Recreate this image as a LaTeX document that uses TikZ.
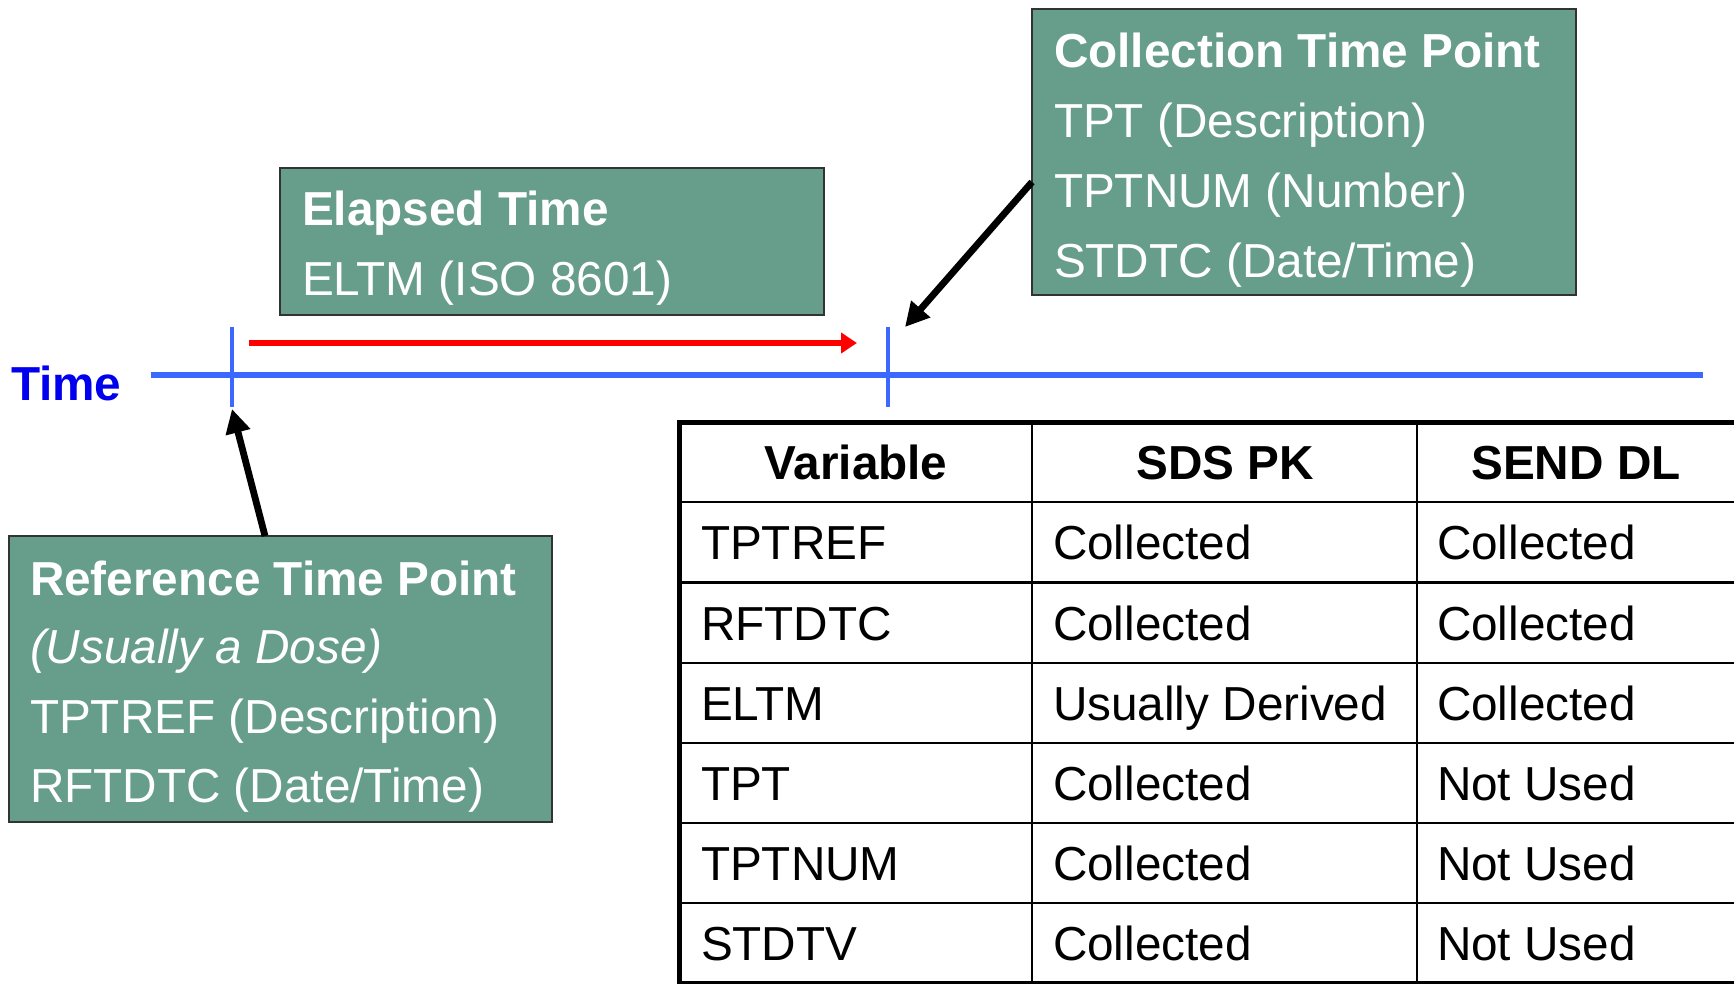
\documentclass[tikz,border=0pt]{standalone}
\usepackage{fontspec}
\setmainfont{Liberation Sans}
\usetikzlibrary{arrows.meta}
\definecolor{boxfill}{RGB}{102,157,139}
\definecolor{axisblue}{RGB}{59,104,255}
\definecolor{labelblue}{RGB}{0,0,238}
\definecolor{redarrow}{RGB}{255,0,0}
\begin{document}
\begin{tikzpicture}[x=0.5pt,y=-0.5pt,
  every node/.style={font=\fontsize{23.85}{28}\selectfont, inner sep=0pt, outer sep=0pt},
  box/.style={draw=black!80, line width=1pt, fill=boxfill, anchor=north west},
  boxtext/.style={text=white, anchor=base west},
  celltext/.style={text=black, anchor=base west},
  headtext/.style={text=black, anchor=base, font=\fontsize{23.85}{28}\selectfont\bfseries},
  axis/.style={draw=axisblue, line width=2.6pt},
  tick/.style={draw=axisblue, line width=2.3pt},
  pointer/.style={draw=black, line width=3.4pt, -{Triangle[length=12pt,width=12pt]}},
  elapsedarrow/.style={draw=redarrow, line width=2.6pt, -{Triangle[length=8pt,width=10pt]}},
  outerrule/.style={draw=black, line width=2.5pt},
  innerrule/.style={draw=black, line width=1.2pt}]
\useasboundingbox (0,0) rectangle (1734,984);

% time axis
\node[text=labelblue, anchor=base west, font=\fontsize{23.85}{28}\selectfont\bfseries] (timelabel) at (11,400) {Time};
\coordinate (axisL) at (151,375);
\coordinate (axisR) at (1703,375);
\draw[axis] (axisL) -- (axisR);
\coordinate (t1top) at (232,327);
\coordinate (t1bot) at (232,407);
\coordinate (t2top) at (888,327);
\coordinate (t2bot) at (888,407);
\draw[tick] (t1top) -- (t1bot);
\draw[tick] (t2top) -- (t2bot);

% elapsed arrow
\coordinate (elS) at (249,343);
\coordinate (elE) at (857,343);
\draw[elapsedarrow] (elS) -- (elE);

% boxes
\node[box, minimum width=272pt, minimum height=73.5pt] (elapsed) at (280,168) {};
\node[boxtext, font=\fontsize{23.85}{28}\selectfont\bfseries] (elapsed1) at (302,226) {Elapsed Time};
\node[boxtext] (elapsed2) at (302,295) {ELTM (ISO 8601)};

\node[box, minimum width=272pt, minimum height=143pt] (collect) at (1032,9) {};
\node[boxtext, font=\fontsize{23.85}{28}\selectfont\bfseries] (collect1) at (1054,68) {Collection Time Point};
\node[boxtext] (collect2) at (1054,138) {TPT (Description)};
\node[boxtext] (collect3) at (1054,208) {TPTNUM (Number)};
\node[boxtext] (collect4) at (1054,278) {STDTC (Date/Time)};

\node[box, minimum width=271.5pt, minimum height=143pt] (ref) at (9,536) {};
\node[boxtext, font=\fontsize{23.85}{28}\selectfont\bfseries] (ref1) at (30,595) {Reference Time Point};
\node[boxtext, font=\fontsize{23.85}{28}\selectfont\itshape] (ref2) at (30,663) {(Usually a Dose)};
\node[boxtext] (ref3) at (30,733) {TPTREF (Description)};
\node[boxtext] (ref4) at (30,802) {RFTDTC (Date/Time)};

% pointers
\coordinate (refTop) at (265,536);
\coordinate (refTip) at (232,409);
\draw[pointer] (refTop) -- (refTip);
\coordinate (colLeft) at (1032,182);
\coordinate (colTip) at (905,327);
\draw[pointer] (colLeft) -- (colTip);

% table
\foreach \y in {502,582.6,662.8,743,823,903}
  \draw[innerrule] (679,\y) -- (1736,\y);
\draw[innerrule] (1032,422) -- (1032,983);
\draw[innerrule] (1417,422) -- (1417,983);
\draw[outerrule] (679,422) rectangle (1736,983);

\node[headtext] (h1) at (856,479) {Variable};
\node[headtext] (h2) at (1225,479) {SDS PK};
\node[headtext] (h3) at (1576,479) {SEND DL};

\node[celltext] (r1a) at (701,559) {TPTREF};
\node[celltext] (r1b) at (1053,559) {Collected};
\node[celltext] (r1c) at (1437,559) {Collected};
\node[celltext] (r2a) at (701,640) {RFTDTC};
\node[celltext] (r2b) at (1053,640) {Collected};
\node[celltext] (r2c) at (1437,640) {Collected};
\node[celltext] (r3a) at (701,720) {ELTM};
\node[celltext] (r3b) at (1053,720) {Usually Derived};
\node[celltext] (r3c) at (1437,720) {Collected};
\node[celltext] (r4a) at (701,800) {TPT};
\node[celltext] (r4b) at (1053,800) {Collected};
\node[celltext] (r4c) at (1437,800) {Not Used};
\node[celltext] (r5a) at (701,880) {TPTNUM};
\node[celltext] (r5b) at (1053,880) {Collected};
\node[celltext] (r5c) at (1437,880) {Not Used};
\node[celltext] (r6a) at (701,960) {STDTV};
\node[celltext] (r6b) at (1053,960) {Collected};
\node[celltext] (r6c) at (1437,960) {Not Used};
\end{tikzpicture}
\end{document}
